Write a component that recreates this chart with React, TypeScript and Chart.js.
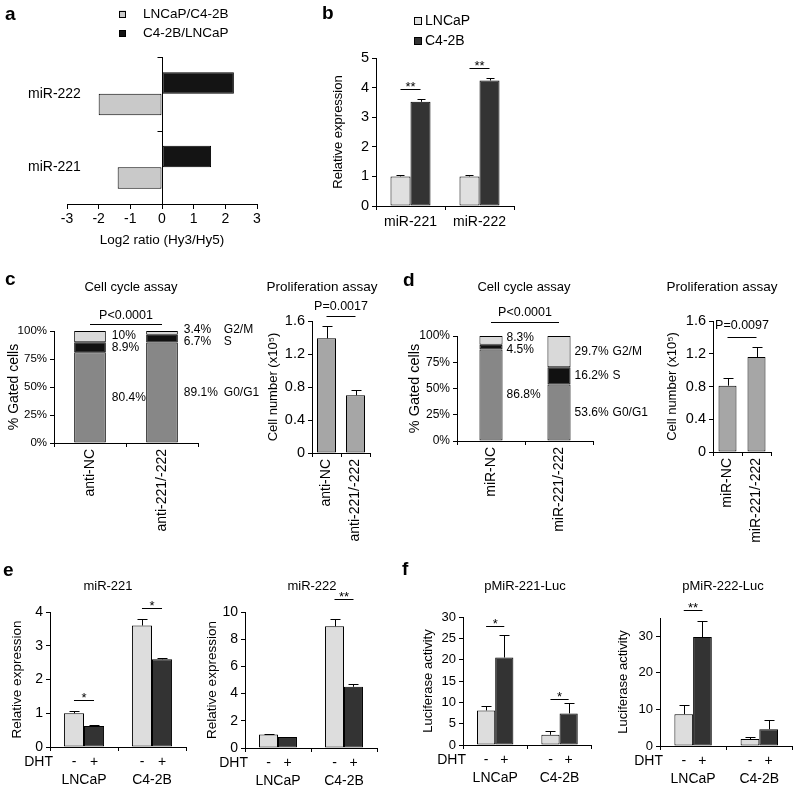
import React, { useEffect, useRef } from 'react';
import { Chart, registerables } from 'chart.js';

Chart.register(...registerables);

const FONT = '"Liberation Sans", Arial, Helvetica, sans-serif';
Chart.defaults.font.family = FONT;
Chart.defaults.color = '#000';

// ---------------- data ----------------
// a
const aCategories = ['miR-222', 'miR-221'];
const aLNCaPOverC42B = [-2.0, -1.4];
const aC42BOverLNCaP = [2.27, 1.55];
// b
const bCategories = ['miR-221', 'miR-222'];
const bLNCaP = [1.0, 1.0];
const bLNCaPErr = [0.04, 0.04];
const bC42B = [3.52, 4.24];
const bC42BErr = [0.08, 0.1];
const bSig = ['**', '**'];
// c
const phaseNames = ['G0/G1', 'S', 'G2/M'];
const cCategories = ['anti-NC', 'anti-221/-222'];
const cG0G1 = [80.4, 89.1];
const cS = [8.9, 6.7];
const cG2M = [10, 3.4];
const cCycleP = 'P<0.0001';
const cProlif = [1.39, 0.7];
const cProlifErr = [0.15, 0.06];
const cProlifP = 'P=0.0017';
// d
const dCategories = ['miR-NC', 'miR-221/-222'];
const dG0G1 = [86.8, 53.6];
const dS = [4.5, 16.2];
const dG2M = [8.3, 29.7];
const dCycleP = 'P<0.0001';
const dProlif = [0.81, 1.16];
const dProlifErr = [0.09, 0.12];
const dProlifP = 'P=0.0097';
// e, f
const cellLines = ['LNCaP', 'C4-2B'];
const dhtLabels = ['-', '+'];
const e221Minus = [1.0, 3.6];
const e221MinusErr = [0.07, 0.2];
const e221Plus = [0.62, 2.6];
const e221PlusErr = [0.04, 0.04];
const e221Sig = ['*', '*'];
const e222Minus = [1.0, 8.95];
const e222MinusErr = [0.02, 0.55];
const e222Plus = [0.8, 4.5];
const e222PlusErr = [0.02, 0.22];
const e222Sig = ['', '**'];
const f221Minus = [8.1, 2.4];
const f221MinusErr = [1.1, 0.95];
const f221Plus = [20.5, 7.4];
const f221PlusErr = [5.2, 2.5];
const f221Sig = ['*', '*'];
const f222Minus = [8.7, 1.9];
const f222MinusErr = [2.5, 0.6];
const f222Plus = [29.8, 4.6];
const f222PlusErr = [4.4, 2.5];
const f222Sig = ['**', ''];

// ---------------- helpers ----------------
type Box = { x: number; y: number; w: number; h: number };
type Plot = { l: number; t: number; r: number; b: number };

function frameOf(box: Box, plot: Plot) {
  return {
    box,
    plot,
    yWidth: plot.l - box.x,
    xHeight: box.y + box.h - plot.b,
    padding: { left: 0, top: plot.t - box.y, right: box.x + box.w - plot.r, bottom: 0 },
    px: (x: number) => x - box.x,
    py: (y: number) => y - box.y,
  };
}

const font = (size: number, weight = 'normal', lineHeight = 1.2) => ({ family: FONT, size, weight, lineHeight });

function text(ctx: any, s: string, x: number, y: number, size: number, o: any = {}) {
  ctx.save();
  ctx.fillStyle = '#000';
  ctx.font = `${o.bold ? 'bold ' : ''}${size}px ${FONT}`;
  ctx.textAlign = o.align || 'center';
  ctx.textBaseline = o.baseline || 'middle';
  ctx.fillText(s, x, y);
  ctx.restore();
}

function line(ctx: any, x1: number, y1: number, x2: number, y2: number) {
  ctx.save();
  ctx.strokeStyle = '#000';
  ctx.lineWidth = 1;
  ctx.beginPath();
  ctx.moveTo(x1, y1);
  ctx.lineTo(x2, y2);
  ctx.stroke();
  ctx.restore();
}

function barDs(label: string, data: number[], color: string, catPct: number, errors?: number[]) {
  return {
    label,
    data,
    errors,
    backgroundColor: color,
    borderColor: '#000',
    borderWidth: 1,
    borderSkipped: false,
    categoryPercentage: catPct,
    barPercentage: 1,
  };
}

function baseOptions(f: any) {
  return {
    responsive: false,
    animation: false,
    devicePixelRatio: 1,
    events: [],
    layout: { padding: f.padding },
    plugins: { legend: { display: false }, tooltip: { enabled: false }, title: { display: false } },
  };
}

function catX(f: any, size: number, padding: number, rotation = 0) {
  return {
    type: 'category',
    afterFit: (s: any) => {
      s.height = f.xHeight;
    },
    border: { display: true, color: '#000', width: 1 },
    grid: { display: true, drawOnChartArea: false, drawTicks: true, tickLength: 4, color: '#000', offset: true },
    ticks: { color: '#000', font: font(size), padding, autoSkip: false, minRotation: rotation, maxRotation: rotation },
  };
}

function linY(f: any, min: number, max: number, step: number, size: number, title: string, titleSize: number, titleCX: number, fmt?: (v: any) => string) {
  const ticks: any = { stepSize: step, color: '#000', font: font(size), padding: 3 };
  if (fmt) ticks.callback = fmt;
  return {
    type: 'linear',
    min,
    max,
    afterFit: (s: any) => {
      s.width = f.yWidth;
    },
    border: { display: true, color: '#000', width: 1 },
    grid: { display: true, drawOnChartArea: false, drawTicks: true, tickLength: 4, color: '#000' },
    ticks,
    title: {
      display: true,
      text: title,
      color: '#000',
      font: font(titleSize, 'normal', 1),
      padding: { top: titleCX - f.box.x - titleSize / 2, bottom: 0 },
    },
  };
}

function extras(f: any, fn: (chart: any, ctx: any, f: any) => void) {
  return {
    id: 'extras',
    afterDraw(chart: any) {
      const ctx = chart.ctx;
      ctx.save();
      fn(chart, ctx, f);
      ctx.restore();
    },
  };
}

function errTop(chart: any, di: number, j: number) {
  const ds = chart.data.datasets[di];
  const e = ds.errors ? ds.errors[j] : 0;
  return chart.scales.y.getPixelForValue(ds.data[j] + e);
}

function drawErrors(ctx: any, chart: any, cap: number) {
  chart.data.datasets.forEach((ds: any, i: number) => {
    if (!ds.errors) return;
    chart.getDatasetMeta(i).data.forEach((el: any, j: number) => {
      const x = Math.round(el.x) + 0.5;
      const top = Math.round(errTop(chart, i, j)) + 0.5;
      line(ctx, x, el.y, x, top);
      line(ctx, x - cap, top, x + cap, top);
    });
  });
}

function drawSig(ctx: any, chart: any, marks: string[], gaps: number[], size: number) {
  const m0 = chart.getDatasetMeta(0);
  const m1 = chart.getDatasetMeta(1);
  marks.forEach((s, j) => {
    if (!s) return;
    const x0 = m0.data[j].x;
    const x1 = m1.data[j].x;
    const ly = Math.round(Math.min(errTop(chart, 0, j), errTop(chart, 1, j)) - gaps[j]) + 0.5;
    line(ctx, x0, ly, x1, ly);
    text(ctx, s, (x0 + x1) / 2, ly + 1, size, { baseline: 'alphabetic' });
  });
}

function drawPLine(ctx: any, chart: any, label: string, top: number, gap: number, textGap: number, size: number) {
  const m = chart.getDatasetMeta(0);
  const x0 = m.data[0].x;
  const x1 = m.data[1].x;
  const ly = Math.round(top - gap) + 0.5;
  line(ctx, x0, ly, x1, ly);
  text(ctx, label, (x0 + x1) / 2, ly - textGap, size);
}

function spread(ys: number[], gap: number): number[] {
  let groups = ys.map((y) => ({ ys: [y], c: y }));
  let changed = true;
  while (changed) {
    changed = false;
    for (let i = 0; i < groups.length - 1; i++) {
      const a = groups[i];
      const b = groups[i + 1];
      const aBottom = a.c + ((a.ys.length - 1) * gap) / 2;
      const bTop = b.c - ((b.ys.length - 1) * gap) / 2;
      if (bTop - aBottom < gap) {
        const merged = a.ys.concat(b.ys);
        const c = merged.reduce((s, v) => s + v, 0) / merged.length;
        groups.splice(i, 2, { ys: merged, c });
        changed = true;
        break;
      }
    }
  }
  const out: number[] = [];
  groups.forEach((g) => g.ys.forEach((_, k) => out.push(g.c - ((g.ys.length - 1) * gap) / 2 + k * gap)));
  return out;
}

function drawStackLabels(ctx: any, chart: any, raws: number[][], dx: number, nameDx: number, size: number) {
  const nCat = chart.data.labels.length;
  for (let j = 0; j < nCat; j++) {
    const items = chart.data.datasets
      .map((ds: any, i: number) => {
        const el = chart.getDatasetMeta(i).data[j];
        return { y: (el.y + el.base) / 2, x: el.x + el.width / 2 + dx, v: raws[i][j], name: ds.label };
      })
      .sort((a: any, b: any) => a.y - b.y);
    const ys = spread(items.map((it: any) => it.y), 12);
    items.forEach((it: any, k: number) => {
      text(ctx, `${it.v}%`, it.x, ys[k], size, { align: 'left' });
      if (j === nCat - 1) text(ctx, it.name, it.x + nameDx, ys[k], size, { align: 'left' });
    });
  }
}

function toPercent(parts: number[][]): number[][] {
  return parts.map((p) => p.map((v, j) => (v / parts.reduce((s, q) => s + q[j], 0)) * 100));
}

function drawDHT(ctx: any, chart: any, size: number) {
  const y = chart.chartArea.bottom + 15;
  text(ctx, 'DHT', chart.chartArea.left + 3, y, size, { align: 'right' });
  [0, 1].forEach((di) => chart.getDatasetMeta(di).data.forEach((el: any) => text(ctx, dhtLabels[di], el.x, y, size)));
}

// ---------------- panels ----------------
const panelA = {
  box: { x: 0, y: 0, w: 290, h: 250 },
  plot: { l: 67, t: 57, r: 257, b: 204 },
  make: (f: any) => ({
    type: 'bar',
    data: {
      labels: aCategories,
      datasets: [barDs('C4-2B/LNCaP', aC42BOverLNCaP, '#141414', 0.585), barDs('LNCaP/C4-2B', aLNCaPOverC42B, '#c9c9c9', 0.585)],
    },
    options: {
      ...baseOptions(f),
      indexAxis: 'y',
      scales: {
        x: {
          type: 'linear',
          min: -3,
          max: 3,
          afterFit: (s: any) => {
            s.height = f.xHeight;
          },
          border: { display: true, color: '#000', width: 1 },
          grid: {
            drawOnChartArea: true,
            drawTicks: true,
            tickLength: 5,
            color: (c: any) => (c.tick && c.tick.value === 0 ? '#000' : 'rgba(0,0,0,0)'),
            tickColor: '#000',
          },
          ticks: { stepSize: 1, color: '#000', font: font(14), padding: 2 },
          title: { display: true, text: 'Log2 ratio (Hy3/Hy5)', color: '#000', font: font(13.5, 'normal', 1), padding: { top: 0, bottom: 3.25 } },
        },
        y: {
          type: 'category',
          afterFit: (s: any) => {
            s.width = f.yWidth;
          },
          border: { display: false },
          grid: { display: false, drawTicks: false },
          ticks: { color: '#000', font: font(14), mirror: true, padding: -39 },
        },
      },
    },
    plugins: [
      extras(f, (chart, ctx, f) => {
        text(ctx, 'a', f.px(5), f.py(15), 19, { bold: true, align: 'left' });
        const items = [...chart.data.datasets].reverse();
        items.forEach((ds: any, i: number) => {
          const cy = f.py(14 + i * 19.5);
          ctx.fillStyle = ds.backgroundColor;
          ctx.fillRect(f.px(119), cy - 3.5, 7, 7);
          ctx.strokeStyle = '#000';
          ctx.lineWidth = 1;
          ctx.strokeRect(f.px(119) + 0.5, Math.round(cy - 3.5) + 0.5, 6, 6);
          text(ctx, ds.label, f.px(143), cy, 13.5, { align: 'left' });
        });
        const x0 = Math.round(chart.scales.x.getPixelForValue(0)) + 0.5;
        const ys = chart.scales.y;
        [chart.chartArea.top, (ys.getPixelForValue(0) + ys.getPixelForValue(1)) / 2].forEach((y) => {
          const yy = Math.round(y) + 0.5;
          line(ctx, x0 - 5, yy, x0, yy);
        });
      }),
    ],
  }),
};

const panelB = {
  box: { x: 290, y: 0, w: 260, h: 240 },
  plot: { l: 376, t: 58, r: 514, b: 206 },
  make: (f: any) => ({
    type: 'bar',
    data: {
      labels: bCategories,
      datasets: [barDs('LNCaP', bLNCaP, '#e0e0e0', 0.58, bLNCaPErr), barDs('C4-2B', bC42B, '#333333', 0.58, bC42BErr)],
    },
    options: {
      ...baseOptions(f),
      scales: {
        x: catX(f, 14, 3.6),
        y: linY(f, 0, 5, 1, 14.5, 'Relative expression', 13, 338),
      },
    },
    plugins: [
      extras(f, (chart, ctx, f) => {
        text(ctx, 'b', f.px(322), f.py(14), 19, { bold: true, align: 'left' });
        chart.data.datasets.forEach((ds: any, i: number) => {
          const cy = Math.round(f.py(21 + i * 20));
          ctx.fillStyle = ds.backgroundColor;
          ctx.fillRect(f.px(414), cy - 4, 8, 8);
          ctx.strokeStyle = '#000';
          ctx.strokeRect(f.px(414) + 0.5, cy - 4 + 0.5, 7, 7);
          text(ctx, ds.label, f.px(425), cy, 14, { align: 'left' });
        });
        drawErrors(ctx, chart, 4);
        drawSig(ctx, chart, bSig, [10, 10], 13);
      }),
    ],
  }),
};

function cyclePanel(box: Box, plot: Plot, cats: string[], parts: number[][], catPct: number, letter: string, letterPos: number[], titleCX: number, yTitleCX: number, yTitleSize: number, yTickSize: number, pLabel: string, pGap: number, pTextGap: number, dx: number, nameDx: number) {
  const pct = toPercent(parts);
  return {
    box,
    plot,
    make: (f: any) => ({
      type: 'bar',
      data: {
        labels: cats,
        datasets: [barDs(phaseNames[0], pct[0], '#878787', catPct), barDs(phaseNames[1], pct[1], '#111111', catPct), barDs(phaseNames[2], pct[2], '#d9d9d9', catPct)],
      },
      options: {
        ...baseOptions(f),
        scales: {
          x: { ...catX(f, 14, 2, 90), stacked: true },
          y: { ...linY(f, 0, 100, 25, yTickSize, '% Gated cells', yTitleSize, yTitleCX, (v: any) => `${v}%`), stacked: true },
        },
      },
      plugins: [
        extras(f, (chart, ctx, f) => {
          text(ctx, letter, f.px(letterPos[0]), f.py(letterPos[1]), 19, { bold: true, align: 'left' });
          text(ctx, 'Cell cycle assay', f.px(titleCX), f.py(287), 13);
          drawPLine(ctx, chart, pLabel, chart.chartArea.top, pGap, pTextGap, 12.5);
          drawStackLabels(ctx, chart, parts, dx, nameDx, 12);
        }),
      ],
    }),
  };
}

function prolifPanel(box: Box, plot: Plot, cats: string[], vals: number[], errs: number[], catPct: number, titleCX: number, yTitleCX: number, pLabel: string, pGap: number, pTextGap: number) {
  return {
    box,
    plot,
    make: (f: any) => ({
      type: 'bar',
      data: { labels: cats, datasets: [barDs('Cell number', vals, '#a6a6a6', catPct, errs)] },
      options: {
        ...baseOptions(f),
        scales: {
          x: catX(f, 14, 2, 90),
          y: linY(f, 0, 1.6, 0.4, 14.5, 'Cell number (x10\u2075)', 13, yTitleCX),
        },
      },
      plugins: [
        extras(f, (chart, ctx, f) => {
          text(ctx, 'Proliferation assay', f.px(titleCX), f.py(287), 13.5);
          drawErrors(ctx, chart, 5);
          drawPLine(ctx, chart, pLabel, Math.min(errTop(chart, 0, 0), errTop(chart, 0, 1)), pGap, pTextGap, 12.5);
        }),
      ],
    }),
  };
}

function dhtPanel(box: Box, plot: Plot, minus: number[], minusErr: number[], plus: number[], plusErr: number[], catPct: number, yMax: number, yStep: number, tickSize: number, yTitle: string, yTitleSize: number, yTitleCX: number, title: string, titleCX: number, sig: string[], sigGaps: number[], letter?: string, letterPos?: number[]) {
  return {
    box,
    plot,
    make: (f: any) => ({
      type: 'bar',
      data: {
        labels: cellLines,
        datasets: [barDs('DHT -', minus, '#dddddd', catPct, minusErr), barDs('DHT +', plus, '#333333', catPct, plusErr)],
      },
      options: {
        ...baseOptions(f),
        scales: {
          x: catX(f, 14, 33 - 4 - 8.4),
          y: linY(f, 0, yMax, yStep, tickSize, yTitle, yTitleSize, yTitleCX),
        },
      },
      plugins: [
        extras(f, (chart, ctx, f) => {
          if (letter && letterPos) text(ctx, letter, f.px(letterPos[0]), f.py(letterPos[1]), 19, { bold: true, align: 'left' });
          text(ctx, title, f.px(titleCX), f.py(586), 13);
          drawErrors(ctx, chart, 5);
          drawSig(ctx, chart, sig, sigGaps, 13);
          drawDHT(ctx, chart, 14);
        }),
      ],
    }),
  };
}

const panels: any[] = [
  panelA,
  panelB,
  cyclePanel({ x: 0, y: 262, w: 265, h: 283 }, { l: 54, t: 331, r: 198, b: 443 }, cCategories, [cG0G1, cS, cG2M], 0.44, 'c', [5, 280], 131, 14, 14, 11.5, cCycleP, 7, 9, 6, 40),
  prolifPanel({ x: 262, y: 262, w: 133, h: 283 }, { l: 312, t: 321, r: 370, b: 453 }, cCategories, cProlif, cProlifErr, 0.655, 322, 273, cProlifP, 10, 10),
  cyclePanel({ x: 400, y: 262, w: 255, h: 283 }, { l: 457, t: 336, r: 593, b: 441 }, dCategories, [dG0G1, dS, dG2M], 0.34, 'd', [403, 281], 524, 415, 14.5, 12, dCycleP, 14, 10, 4, 38),
  prolifPanel({ x: 655, y: 262, w: 145, h: 283 }, { l: 713, t: 321, r: 771, b: 452 }, dCategories, dProlif, dProlifErr, 0.62, 722, 672, dProlifP, 10, 12),
  dhtPanel({ x: 0, y: 555, w: 195, h: 233 }, { l: 50, t: 612, r: 186, b: 747 }, e221Minus, e221MinusErr, e221Plus, e221PlusErr, 0.59, 4, 1, 14, 'Relative expression', 13.5, 17, 'miR-221', 108, e221Sig, [11, 11], 'e', [3, 571]),
  dhtPanel({ x: 195, y: 555, w: 205, h: 233 }, { l: 245, t: 612, r: 377, b: 748 }, e222Minus, e222MinusErr, e222Plus, e222PlusErr, 0.575, 10, 2, 14, 'Relative expression', 13.5, 212, 'miR-222', 312, e222Sig, [0, 20]),
  dhtPanel({ x: 400, y: 555, w: 200, h: 233 }, { l: 463, t: 617, r: 601, b: 745 }, f221Minus, f221MinusErr, f221Plus, f221PlusErr, 0.565, 30, 5, 13, 'Luciferase activity', 13, 428, 'pMiR-221-Luc', 525, f221Sig, [9, 4], 'f', [402, 570]),
  dhtPanel({ x: 600, y: 555, w: 200, h: 233 }, { l: 660, t: 618, r: 799, b: 746 }, f222Minus, f222MinusErr, f222Plus, f222PlusErr, 0.565, 35, 5, 13, 'Luciferase activity', 13, 623, 'pMiR-222-Luc', 723, f222Sig, [11, 0]),
];

function ChartCanvas({ spec }: { spec: any }) {
  const ref = useRef<HTMLCanvasElement>(null);
  useEffect(() => {
    if (!ref.current) return;
    const f = frameOf(spec.box, spec.plot);
    const chart = new Chart(ref.current, spec.make(f));
    return () => chart.destroy();
  }, [spec]);
  return (
    <canvas
      ref={ref}
      width={spec.box.w}
      height={spec.box.h}
      style={{ position: 'absolute', left: spec.box.x, top: spec.box.y, width: spec.box.w, height: spec.box.h }}
    />
  );
}

export default function App() {
  return (
    <div style={{ position: 'absolute', left: 0, top: 0, width: 800, height: 788, background: '#fff', overflow: 'hidden' }}>
      {panels.map((p, i) => (
        <ChartCanvas key={i} spec={p} />
      ))}
    </div>
  );
}
